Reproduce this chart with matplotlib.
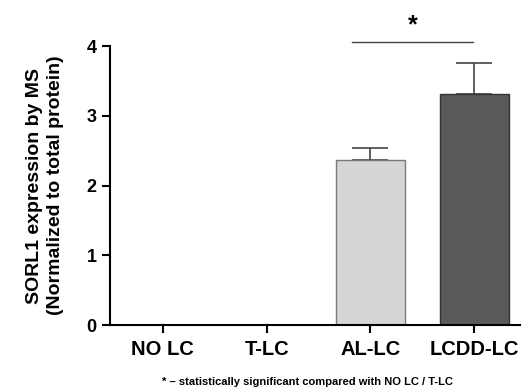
import matplotlib
matplotlib.use("Agg")
import matplotlib.pyplot as plt

plt.rcParams['font.family'] = ['Liberation Sans', 'DejaVu Sans']
plt.rcParams['font.weight'] = 'bold'

# data
groups = ["NO LC", "T-LC", "AL-LC", "LCDD-LC"]
means = [0, 0, 2.37, 3.31]
sem = [0, 0, 0.17, 0.45]
bar_colors = ["#d6d6d6", "#d6d6d6", "#d6d6d6", "#5a5a5a"]
edge_colors = ["#7a7a7a", "#7a7a7a", "#7a7a7a", "#333333"]
sig_span = [1.82, 2.99]
sig_height = 4.06
yticks = [0, 1, 2, 3, 4]

fig = plt.figure(figsize=(5.26, 3.89), dpi=100)
ax = fig.add_axes([0.209, 0.1645, 0.7795, 0.717])

x = range(len(groups))
ax.bar(x, means, width=0.66, color=bar_colors, edgecolor=edge_colors, linewidth=1.0, zorder=2)
for i in x:
    if sem[i] > 0:
        ax.errorbar(i, means[i], yerr=[[0], [sem[i]]], fmt='none', ecolor='#444444',
                    elinewidth=1.2, capsize=13, capthick=1.2, zorder=1)

ax.plot(sig_span, [sig_height, sig_height], color='#444444', lw=1.0, clip_on=False)
ax.text(sum(sig_span) / 2, sig_height + 0.06, "*", ha='center', va='bottom',
        fontsize=18, fontweight='bold', clip_on=False)

ax.set_xlim(-0.51, 3.44)
ax.set_ylim(0, 4)
ax.set_yticks(yticks)
ax.set_xticks(list(x))
ax.set_xticklabels(groups, fontsize=14.5, fontweight='bold')
ax.tick_params(axis='y', labelsize=13, length=6, width=1.5, direction='out')
ax.tick_params(axis='x', length=6, width=1.5, direction='out', pad=5)
for lab in ax.get_yticklabels():
    lab.set_fontweight('bold')

ax.spines['top'].set_visible(False)
ax.spines['right'].set_visible(False)
ax.spines['left'].set_linewidth(1.5)
ax.spines['bottom'].set_linewidth(1.5)

ax.set_ylabel("SORL1 expression by MS\n(Normalized to total protein)", fontsize=14,
              fontweight='bold', labelpad=16, linespacing=1.3)

fig.text(0.584, 0.018, "* \u2013 statistically significant compared with NO LC / T-LC",
         ha='center', va='center', fontsize=8, fontweight='bold')

fig.savefig("out.png", dpi=100)
